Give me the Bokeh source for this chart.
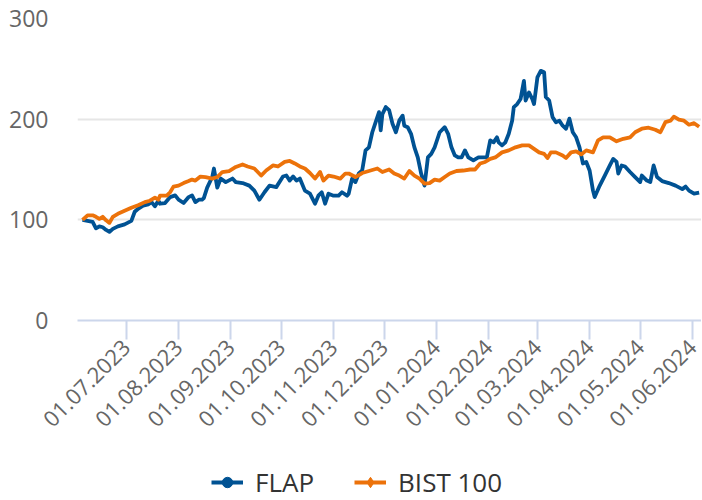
import math
import pandas as pd
from bokeh.plotting import figure
from bokeh.layouts import column
from bokeh.models import (Range1d, FixedTicker, DatetimeTickFormatter, Legend,
                          LegendItem)
from bokeh.embed import file_html
from bokeh.resources import INLINE

# ---------------- data ----------------
START = "2023-06-05"
month_ticks = ["2023-07-01", "2023-08-01", "2023-09-01", "2023-10-01", "2023-11-01",
               "2023-12-01", "2024-01-01", "2024-02-01", "2024-03-01", "2024-04-01",
               "2024-05-01", "2024-06-01"]
y_ticks = [0, 100, 200, 300]

# days since START
flap_day = [0, 3, 6, 8, 10, 12, 14, 16, 18, 21, 25, 29, 31, 33, 36, 39, 41, 43, 45, 46,
            49, 52, 55, 57, 60, 63, 65, 67, 69, 71, 72, 74, 77, 78, 80, 82, 85, 89, 91, 95,
            99, 102, 105, 108, 111, 115, 119, 121, 123, 125, 127, 129, 132, 135, 138, 140,
            142, 144, 146, 149, 152, 154, 157, 158, 160, 162, 164, 166, 168, 170, 172, 174,
            176, 177, 178, 180, 182, 184, 186, 188, 190, 191, 193, 195, 197, 199, 201, 203,
            205, 207, 209, 212, 215, 217, 219, 221, 223, 225, 227, 229, 232, 235, 238, 240,
            242, 244, 246, 247, 249, 251, 253, 255, 256, 258, 260, 262, 263, 265, 267, 268,
            270, 272, 274, 275, 277, 279, 281, 283, 285, 287, 289, 291, 293, 295, 297, 299,
            301, 303, 304, 307, 310, 313, 315, 317, 318, 320, 322, 325, 328, 331, 332, 335,
            337, 339, 341, 344, 348, 352, 356, 358, 360, 363, 366]
flap_val = [100, 99, 98, 91.5, 93.5, 92.6, 90, 88, 91, 93.5, 95.5, 99, 108, 111, 114, 115.4,
            117.6, 113.4, 119, 116, 116.7, 122.6, 124.3, 120, 116.7, 122.6, 124.3, 117.6, 120,
            120, 121.6, 132, 142.5, 151, 132, 141, 137.5, 141, 137.5, 136.5, 134, 129, 120,
            127.4, 134, 132.5, 143, 144, 139, 143, 139, 141, 129, 126, 116, 124, 127.4, 116,
            126, 124, 124, 127.4, 124, 126, 141, 137.5, 146, 149, 169, 172, 187, 197, 207, 189,
            205, 212, 209, 195.5, 187, 198.5, 203.5, 193.5, 192, 185.5, 172, 162, 146, 134,
            162, 165.5, 172, 187, 192, 185.5, 172, 164, 162, 162, 169, 162, 159, 162, 162, 162,
            179, 177, 182, 177, 174, 177, 185.5, 198.5, 212, 215, 220, 238, 218.5, 226.5, 220,
            215, 241.5, 248, 246.5, 222, 218.5, 202, 197, 198.5, 193.5, 190.5, 200.5, 187, 182,
            172, 156, 157.5, 149, 129, 122.6, 134, 144, 154, 160.5, 157.5, 146, 154, 153, 147.5,
            142.5, 137.5, 144, 139, 137.5, 154, 142.5, 138.5, 136.5, 134, 130.5, 133, 129, 126,
            127]

bist_day = [0, 3, 6, 8, 10, 12, 14, 16, 18, 21, 25, 29, 33, 37, 40, 43, 45, 46, 50, 52, 54,
            57, 60, 63, 65, 67, 70, 73, 77, 80, 83, 87, 91, 95, 98, 102, 106, 109, 113, 116,
            120, 123, 126, 129, 132, 135, 138, 141, 143, 146, 149, 153, 156, 158, 162, 166,
            170, 175, 178, 182, 185, 188, 191, 194, 197, 200, 203, 206, 209, 212, 215, 218,
            222, 226, 230, 233, 236, 239, 242, 245, 249, 253, 257, 261, 265, 268, 271, 274,
            276, 278, 281, 285, 287, 290, 293, 296, 299, 303, 306, 309, 313, 317, 321, 325,
            328, 332, 336, 340, 343, 346, 349, 351, 354, 357, 360, 363, 366]
bist_val = [100, 104.5, 104.5, 103, 101, 103, 99.5, 97, 103, 106, 109, 112, 114.5, 117.6,
            119, 122, 120, 124, 124, 127.4, 133, 134, 136.5, 138.5, 140, 139, 143, 142.5, 141,
            142.5, 147.5, 148.5, 152.5, 155, 153, 151, 144, 149, 154, 153, 157.5, 158.5, 156,
            153, 151, 146.5, 141, 147.5, 139, 144, 143, 141, 146, 146, 142.5, 146.5, 148.5,
            151, 147.5, 150, 146, 144, 141, 148.5, 144, 141, 136, 136.5, 140, 139, 142.5, 146,
            148.5, 149, 150, 150, 156, 157.5, 160.5, 162, 167, 169, 172, 174, 174, 170.5, 167,
            165.5, 161.5, 167, 167, 164, 161.5, 167, 168, 165, 169, 167, 179, 182, 182, 178,
            180.5, 182, 187, 190.5, 191.5, 189.5, 187, 197, 198.5, 202.5, 199.5, 198.5, 194.5,
            196, 192.5]

series_names = ["FLAP", "BIST 100"]
# ---------------------------------------

start = pd.Timestamp(START)
flap_x = [start + pd.Timedelta(days=d) for d in flap_day]
bist_x = [start + pd.Timedelta(days=d) for d in bist_day]

BLUE = "#005293"
ORANGE = "#ec720a"
FONT = "Open Sans"
W = 701

x0 = start - pd.Timedelta(days=2.97)
x1 = start + pd.Timedelta(days=367.4)

p = figure(width=W, height=458, x_axis_type="datetime", output_backend="svg",
           toolbar_location=None, x_range=Range1d(x0, x1), y_range=Range1d(0, 300),
           min_border_left=77, min_border_right=0, min_border_top=18, min_border_bottom=138)
p.outline_line_color = None
p.background_fill_color = "white"
p.border_fill_color = "white"

p.line(flap_x, flap_val, line_color=BLUE, line_width=3.8, line_join="round")
p.line(bist_x, bist_val, line_color=ORANGE, line_width=3.8, line_join="round")

# x axis
xa = p.xaxis[0]
xa.ticker = FixedTicker(ticks=[pd.Timestamp(t).value / 1e6 for t in month_ticks])
fmt = "%d.%m.%Y"
xa.formatter = DatetimeTickFormatter(milliseconds=fmt, seconds=fmt, minsec=fmt, minutes=fmt,
                                     hourmin=fmt, hours=fmt, days=fmt, months=fmt, years=fmt)
xa.major_label_orientation = math.pi / 4
xa.axis_line_color = "#ccd6eb"
xa.axis_line_width = 2
xa.major_tick_line_color = "#ccd6eb"
xa.major_tick_line_width = 2
xa.major_tick_out = 19
xa.major_tick_in = 0
xa.minor_tick_line_color = None
xa.major_label_text_font = FONT
xa.major_label_text_font_size = "22px"
xa.major_label_text_color = "#666666"
xa.major_label_standoff = 4

ya = p.yaxis[0]
ya.ticker = FixedTicker(ticks=y_ticks)
ya.axis_line_color = None
ya.major_tick_line_color = None
ya.major_tick_out = 0
ya.major_tick_in = 0
ya.minor_tick_line_color = None
ya.major_label_text_font = FONT
ya.major_label_text_font_size = "23px"
ya.major_label_text_color = "#666666"
ya.major_label_standoff = 29

p.xgrid.grid_line_color = None
p.ygrid.grid_line_color = "#e6e6e6"
p.ygrid.grid_line_width = 2
p.ygrid.ticker = FixedTicker(ticks=y_ticks)

# legend strip (separate figure so the legend is not clipped by the main frame)
lf = figure(width=W, height=42, output_backend="svg", toolbar_location=None,
            x_axis_location=None, y_axis_location=None,
            x_range=Range1d(0, 1), y_range=Range1d(0, 1),
            min_border_left=0, min_border_right=0, min_border_top=0, min_border_bottom=0)
lf.outline_line_color = None
lf.xgrid.grid_line_color = None
lf.ygrid.grid_line_color = None
nan = [float("nan")]
r1 = lf.line(nan, nan, line_color=BLUE, line_width=4)
s1 = lf.scatter(nan, nan, marker="circle", size=15, fill_color=BLUE, line_color=BLUE)
r2 = lf.line(nan, nan, line_color=ORANGE, line_width=4)
s2 = lf.scatter(nan, nan, marker="diamond", size=19, fill_color=ORANGE, line_color=ORANGE)

legend = Legend(items=[LegendItem(label=series_names[0], renderers=[r1, s1]),
                       LegendItem(label=series_names[1], renderers=[r2, s2])],
                location=(134, 0), orientation="horizontal",
                label_text_font=FONT, label_text_font_size="26px",
                label_text_color="#333333", glyph_width=32, glyph_height=26,
                label_standoff=12, spacing=40, padding=0, margin=0,
                border_line_color=None, background_fill_alpha=0)
lf.add_layout(legend, "center")

layout = column(p, lf, spacing=0)
open("out.html", "w").write(file_html(layout, INLINE))
